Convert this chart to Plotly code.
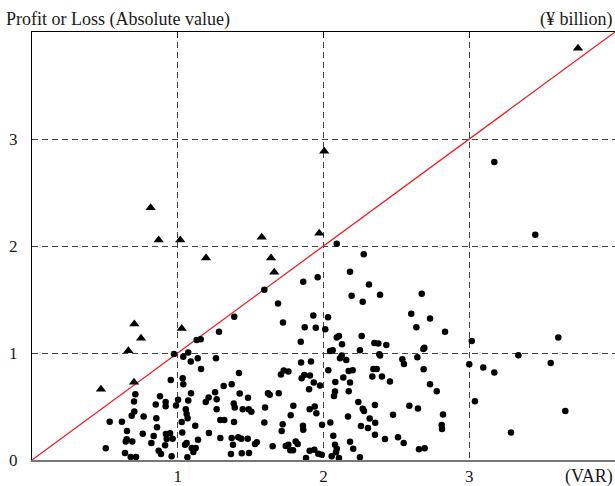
import plotly.graph_objects as go

# Points where loss exceeded VAR (triangles)
tri_x = [0.748, 0.661, 0.700, 0.473, 0.702, 1.027, 0.814, 0.869, 1.017, 1.194,
         1.576, 1.640, 1.662, 1.971, 2.005, 3.746]
tri_y = [1.137, 1.022, 0.727, 0.662, 1.270, 1.230, 2.358, 2.057, 2.057, 1.889,
         2.081, 1.889, 1.755, 2.118, 2.886, 3.849]

# Points within VAR (dots)
dot_x = [
    0.974, 0.952, 0.709, 0.878, 1.002, 0.700, 0.849, 0.917, 0.917, 0.988,
    0.702, 0.684, 0.766, 0.853, 0.533, 0.617, 0.858, 0.652, 0.760, 0.919,
    0.947, 0.835, 0.650, 0.688, 0.643, 0.924, 0.965, 0.819, 0.913, 0.506,
    0.869, 0.885, 0.638, 0.677, 0.714, 0.958,
    1.283, 1.130, 1.157, 1.038, 1.072, 1.089, 1.137, 1.160, 1.262, 1.420,
    1.034, 1.038, 1.315, 1.370, 1.091, 1.256, 1.425, 1.482, 1.212, 1.192,
    1.267, 1.072, 1.384, 1.391, 1.267, 1.446, 1.487, 1.505, 1.055, 1.061,
    1.068, 1.292, 1.319, 1.386, 1.027, 1.120, 1.031, 1.214, 1.139, 1.292,
    1.370, 1.415, 1.436, 1.480, 1.061, 1.050, 1.379, 1.542, 1.530, 1.096,
    1.123, 1.107, 1.365, 1.439, 1.489, 1.066,
    1.727, 1.759, 1.708, 1.844, 1.846, 1.914, 1.850, 1.868, 1.907, 1.933,
    1.976, 1.901, 1.619, 1.631, 1.693, 1.599, 1.793, 1.905, 1.940, 1.951,
    1.775, 1.594, 1.720, 1.859, 1.861, 1.713, 1.990, 1.651, 1.741, 1.759,
    1.809, 1.823, 1.772, 1.791, 1.905, 1.937, 1.964, 1.988, 1.880,
    2.637, 2.834, 2.091, 2.106, 2.262, 2.127, 2.349, 2.376, 2.431, 2.045,
    2.063, 2.250, 2.383, 2.388, 2.685, 2.692, 2.644, 2.113, 2.125, 2.156,
    2.541, 2.552, 2.033, 2.173, 2.200, 2.342, 2.365, 2.687, 3.000, 2.136,
    2.335, 2.401, 2.081, 2.182, 2.456, 2.731, 2.777, 2.079, 2.072, 2.173,
    2.239, 2.269, 2.278, 2.353, 2.589, 2.648, 2.168, 2.317, 2.355, 2.477,
    2.820, 2.047, 2.257, 2.305, 2.811, 2.813, 2.067, 2.353, 2.422, 2.511,
    2.550, 2.182, 2.079, 2.091, 2.086, 2.204, 2.056, 2.106, 2.250, 2.655,
    2.694,
    3.017, 3.611, 3.337, 3.096, 3.172, 3.559, 3.039, 3.659, 3.286,
    2.091, 3.172, 3.453, 2.276, 1.861, 1.960, 2.182, 2.312, 2.193, 2.269,
    2.388, 2.674, 2.602, 2.731, 1.930, 2.031, 1.871, 1.947, 2.012,
    1.594, 1.688, 1.388, 1.722,
]
dot_y = [
    0.991, 0.748, 0.615, 0.596, 0.562, 0.547, 0.519, 0.541, 0.503, 0.510,
    0.454, 0.413, 0.407, 0.391, 0.357, 0.357, 0.305, 0.270, 0.245, 0.242,
    0.249, 0.224, 0.193, 0.174, 0.174, 0.196, 0.199, 0.158, 0.137, 0.109,
    0.087, 0.056, 0.065, 0.028, 0.028, 0.034,
    1.199, 1.121, 1.128, 0.966, 1.004, 0.920, 0.951, 0.851, 0.951, 0.814,
    0.764, 0.708, 0.692, 0.708, 0.624, 0.634, 0.622, 0.581, 0.584, 0.543,
    0.568, 0.556, 0.528, 0.491, 0.475, 0.475, 0.475, 0.450, 0.475, 0.431,
    0.391, 0.373, 0.373, 0.354, 0.354, 0.320, 0.258, 0.252, 0.189, 0.205,
    0.205, 0.212, 0.199, 0.199, 0.158, 0.143, 0.143, 0.165, 0.149, 0.112,
    0.112, 0.075, 0.056, 0.062, 0.065, 0.025,
    0.836, 0.827, 0.799, 1.106, 0.911, 0.920, 0.764, 0.795, 0.789, 0.724,
    0.696, 0.662, 0.624, 0.609, 0.624, 0.491, 0.506, 0.475, 0.500, 0.438,
    0.419, 0.351, 0.333, 0.320, 0.282, 0.270, 0.329, 0.128, 0.130, 0.143,
    0.174, 0.149, 0.090, 0.090, 0.087, 0.096, 0.059, 0.049, 0.019,
    1.240, 1.199, 1.146, 1.160, 1.158, 1.081, 1.093, 1.088, 1.075, 1.019,
    1.025, 1.025, 0.988, 0.976, 1.037, 1.050, 0.960, 0.951, 0.976, 0.935,
    0.941, 0.897, 0.839, 0.832, 0.839, 0.851, 0.851, 0.848, 0.895, 0.771,
    0.780, 0.780, 0.730, 0.724, 0.733, 0.708, 0.643, 0.640, 0.599, 0.643,
    0.543, 0.478, 0.459, 0.515, 0.506, 0.482, 0.407, 0.389, 0.348, 0.422,
    0.426, 0.351, 0.317, 0.298, 0.326, 0.289, 0.226, 0.236, 0.196, 0.212,
    0.158, 0.171, 0.143, 0.105, 0.072, 0.105, 0.034, 0.019, 0.025, 0.100,
    0.109,
    1.112, 1.144, 0.979, 0.864, 0.817, 0.907, 0.550, 0.457, 0.258,
    2.022, 2.784, 2.106, 1.923, 1.665, 1.708, 1.759, 1.640, 1.535, 1.479,
    1.544, 1.554, 1.367, 1.323, 1.351, 1.333, 1.240, 1.237, 1.221,
    1.591, 1.463, 1.339, 1.286,
]

# 45-degree reference line (loss = VAR)
line_x = [0, 4]
line_y = [0, 4]

x_ticks = [1, 2, 3]
y_ticks = [0, 1, 2, 3]

FONT = "Liberation Serif"
FS = 17
FS_TITLE = 18
TXT = "#1a1a1a"
GRID_DASH = "6px,4px"

fig = go.Figure()
fig.add_trace(go.Scatter(x=line_x, y=line_y, mode="lines",
                         line=dict(color="#ee2020", width=1.3),
                         hoverinfo="skip", showlegend=False))
fig.add_trace(go.Scatter(x=dot_x, y=dot_y, mode="markers",
                         marker=dict(symbol="circle", size=6.5, color="black"),
                         showlegend=False))
fig.add_trace(go.Scatter(x=tri_x, y=tri_y, mode="markers",
                         marker=dict(symbol="triangle-up", size=9, color="black"),
                         showlegend=False))
# invisible trace to carry the top axis
fig.add_trace(go.Scatter(x=[0], y=[0], xaxis="x2", mode="markers",
                         marker=dict(opacity=0), hoverinfo="skip", showlegend=False))

fig.update_layout(
    width=615, height=486,
    margin=dict(l=32, r=0, t=32, b=24),
    paper_bgcolor="white", plot_bgcolor="white",
    font=dict(family=FONT, size=FS, color=TXT),
    xaxis=dict(range=[0, 4], tickvals=x_ticks, ticktext=[str(v) for v in x_ticks],
               showgrid=True, gridcolor="#444", griddash=GRID_DASH, gridwidth=1,
               zeroline=False, showline=True, linecolor="#777", linewidth=2,
               ticks="", tickfont=dict(family=FONT, size=FS, color=TXT)),
    xaxis2=dict(range=[0, 4], overlaying="x", side="top", matches="x",
                tickvals=x_ticks, showticklabels=False, showgrid=False,
                zeroline=False, showline=True, linecolor="black", linewidth=1,
                ticks="inside", ticklen=6, tickcolor="black"),
    yaxis=dict(range=[0, 4], tickvals=y_ticks, ticktext=[str(v) for v in y_ticks],
               showgrid=True, gridcolor="#444", griddash=GRID_DASH, gridwidth=1,
               zeroline=False, showline=True, linecolor="black", linewidth=1,
               ticks="", ticklabelstandoff=10,
               tickfont=dict(family=FONT, size=FS, color=TXT)),
    annotations=[
        dict(text="Profit or Loss (Absolute value)", xref="paper", yref="paper",
             x=-28/583, y=1, xanchor="left", yanchor="bottom", yshift=0,
             showarrow=False, font=dict(family=FONT, size=FS_TITLE, color=TXT)),
        dict(text="(¥ billion)", xref="paper", yref="paper",
             x=1, y=1, xanchor="right", yanchor="bottom", yshift=0,
             showarrow=False, font=dict(family=FONT, size=FS_TITLE, color=TXT)),
        dict(text="(VAR)", xref="paper", yref="paper",
             x=1, y=0, xanchor="right", yanchor="top", yshift=-4,
             showarrow=False, font=dict(family=FONT, size=FS_TITLE, color=TXT)),
    ],
)

fig.write_html("out.html", config={"displayModeBar": False},
               post_script="document.body.style.margin='0';document.body.style.overflow='hidden';")
